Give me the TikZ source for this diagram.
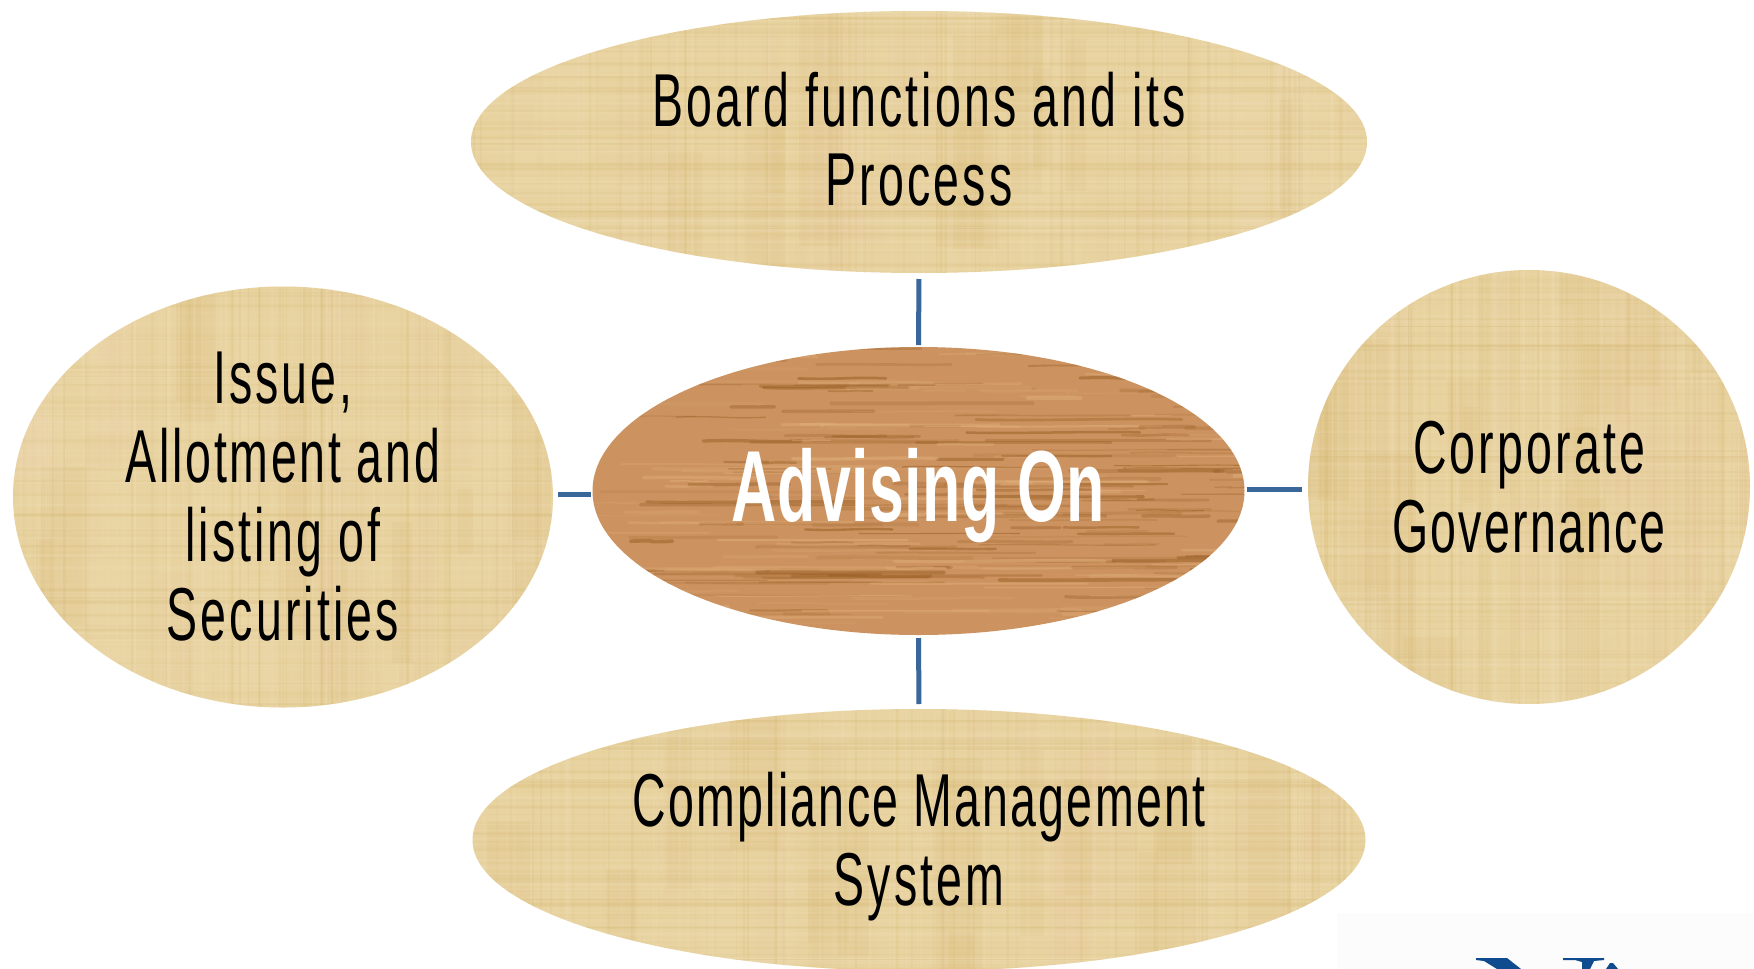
\documentclass[tikz,border=0pt]{standalone}
\usepackage{fontspec}
\usetikzlibrary{shapes.geometric,calc}
\setmainfont[FakeStretch=0.62,LetterSpace=4.2]{Liberation Sans}
\newfontfamily\woodfont[FakeStretch=0.62,LetterSpace=0.5]{Liberation Sans Bold}
\newcommand{\tighter}{\addfontfeature{LetterSpace=3.0}}
\definecolor{paperbase}{HTML}{E8D3A0}
\definecolor{paperdark}{HTML}{D2B36A}
\definecolor{paperlight}{HTML}{F3E2BE}
\definecolor{papertan}{HTML}{E8C9A0}
\definecolor{woodbase}{HTML}{CC9360}
\definecolor{wooddark}{HTML}{94591F}
\definecolor{woodlight}{HTML}{E2B07C}
\definecolor{linkblue}{HTML}{3A6799}
\definecolor{logoblue}{HTML}{0F4C8F}
\definecolor{logopale}{HTML}{FCFCFC}
\pgfmathsetseed{4217}
\tikzset{
  papertex/.style={ellipse, inner sep=0pt, outer sep=0pt, fill=paperbase,
    align=center, font=\fontsize{75}{79}\selectfont, text=black,
    path picture={
      \foreach \i in {1,...,40}{
        \pgfmathsetmacro{\u}{rnd}
        \pgfmathsetmacro{\v}{rnd}
        \pgfmathsetmacro{\pw}{6+22*rnd}
        \pgfmathsetmacro{\ph}{30+120*rnd}
        \pgfmathtruncatemacro{\k}{int(2.99*rnd)}
        \ifcase\k\def\tone{paperdark}\or\def\tone{paperlight}\else\def\tone{papertan}\fi
        \coordinate (pl) at ($(path picture bounding box.south west)!\v!(path picture bounding box.north west)$);
        \coordinate (pr) at ($(path picture bounding box.south east)!\v!(path picture bounding box.north east)$);
        \coordinate (pc) at ($(pl)!\u!(pr)$);
        \fill[\tone, opacity=0.13] ($(pc)+(-\pw pt,-\ph pt)$) rectangle ($(pc)+(\pw pt,\ph pt)$);
      }
      \foreach \i in {1,...,150}{
        \pgfmathsetmacro{\u}{rnd}
        \pgfmathsetmacro{\o}{0.04+0.13*rnd}
        \pgfmathsetmacro{\w}{1+2.5*rnd}
        \pgfmathparse{rnd<0.45?"paperdark":"paperlight"}
        \edef\tone{\pgfmathresult}
        \path[draw=\tone, draw opacity=\o, line width=\w pt]
          ($(path picture bounding box.south west)!\u!(path picture bounding box.south east)$)
          -- ($(path picture bounding box.north west)!\u!(path picture bounding box.north east)$);
        \pgfmathsetmacro{\v}{rnd}
        \pgfmathsetmacro{\o}{0.04+0.11*rnd}
        \pgfmathsetmacro{\w}{1+2.5*rnd}
        \path[draw=\tone, draw opacity=\o, line width=\w pt]
          ($(path picture bounding box.south west)!\v!(path picture bounding box.north west)$)
          -- ($(path picture bounding box.south east)!\v!(path picture bounding box.north east)$);
      }
    }},
  woodtex/.style={ellipse, inner sep=0pt, outer sep=0pt, fill=woodbase,
    align=center, text=white, font=\woodfont\fontsize{101}{110}\selectfont,
    path picture={
      \foreach \i in {1,...,280}{
        \pgfmathsetmacro{\v}{rnd}
        \pgfmathsetmacro{\a}{rnd}
        \pgfmathsetmacro{\b}{min(1,\a+0.05+0.3*rnd)}
        \pgfmathsetmacro{\o}{0.12+0.38*rnd}
        \pgfmathsetmacro{\w}{1+2.8*rnd}
        \pgfmathsetmacro{\d}{4*(rnd-0.5)}
        \pgfmathparse{rnd<0.6?"wooddark":"woodlight"}
        \edef\tone{\pgfmathresult}
        \coordinate (wl) at ($(path picture bounding box.south west)!\v!(path picture bounding box.north west)$);
        \coordinate (wr) at ($(path picture bounding box.south east)!\v!(path picture bounding box.north east)$);
        \path[draw=\tone, draw opacity=\o, line width=\w pt, line cap=round]
          ($(wl)!\a!(wr)$) .. controls +(40pt,\d pt) and +(-40pt,-\d pt) .. ($(wl)!\b!(wr)$);
      }
    }},
  linkline/.style={draw=linkblue, line width=5pt}
}
\begin{document}
\begin{tikzpicture}[x=1pt,y=-1pt]
\useasboundingbox (0,0) rectangle (1754,969);
\fill[white] (0,0) rectangle (1754,969);
\fill[logopale] (1337,913) rectangle (1754,969);
\fill[logoblue] (1476,958) -- (1507,958) -- (1521,969) -- (1497,969) -- (1484,961) -- (1476,960) -- cycle;
\fill[logoblue] (1563,958) -- (1604,958) -- (1604,960) -- (1594,961) -- (1590,969) -- (1582,969) -- (1582,962) -- (1575,960) -- (1563,960) -- cycle;
\fill[logoblue] (1606,969) -- (1610,963) -- (1613,963) -- (1618,969) -- cycle;

\node[papertex, minimum width=896pt, minimum height=262pt] (board) at (919,142) {Board functions and its\\Process\rule[-6pt]{0pt}{1pt}};
\node[papertex, minimum width=540pt, minimum height=421pt] (issue) at (283,497) {Issue,\\{\addfontfeature{LetterSpace=3.6}Allotment and}\\listing of\\Securities};
\node[papertex, minimum width=442pt, minimum height=434pt] (gov) at (1529,487) {Corporate\\{\tighter Governance}};
\node[papertex, minimum width=893pt, minimum height=262pt] (comp) at (919,840) {\rule{0pt}{67pt}{\tighter Compliance Management}\\System};
\node[woodtex, minimum width=652pt, minimum height=288pt] (adv) at (918.5,491) {\raisebox{-30pt}[0pt][0pt]{Advising On}};

\draw[linkline, shorten <=6pt, shorten >=2pt] (board.south) -- (adv.north);
\draw[linkline, shorten <=3pt, shorten >=5pt] (adv.south) -- (comp.north);
\draw[linkline, shorten <=5pt, shorten >=2pt] ($(issue.east)+(0,-3)$) -- ($(adv.west)+(0,3)$);
\draw[linkline, shorten <=2pt, shorten >=6pt] ($(adv.east)+(0,-2)$) -- ($(gov.west)+(0,2)$);
\end{tikzpicture}
\end{document}
